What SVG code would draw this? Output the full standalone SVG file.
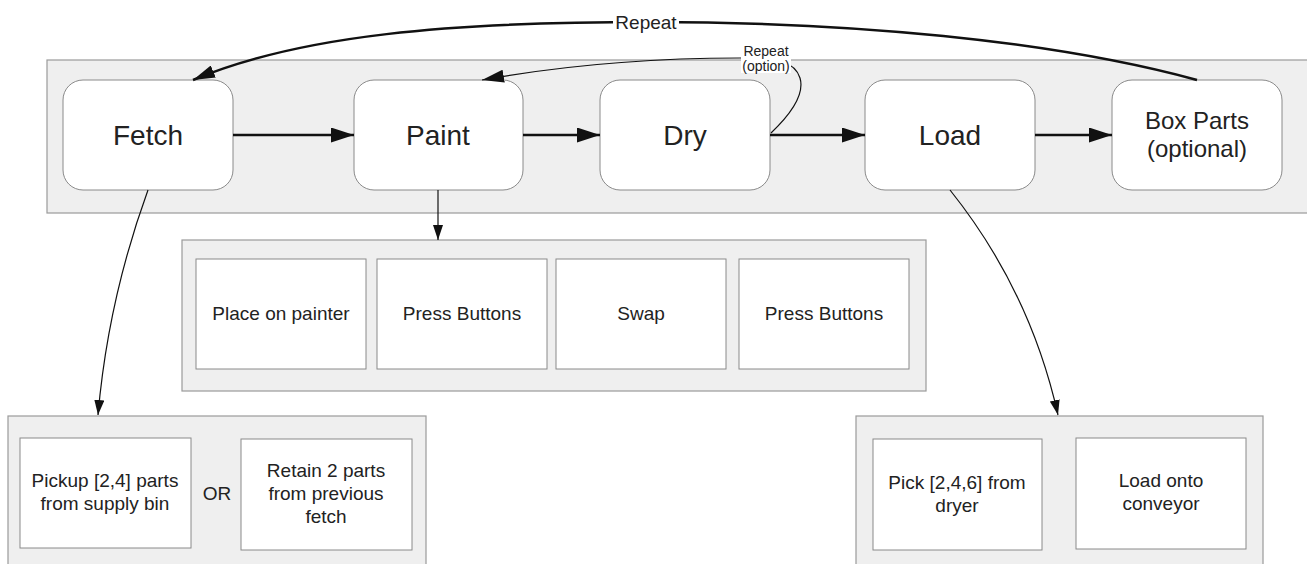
<svg xmlns="http://www.w3.org/2000/svg" width="1307" height="564" viewBox="0 0 1307 564">
<style>
.cont{fill:#efefef;stroke:#9a9a9a;stroke-width:1.2}
.node{fill:#fff;stroke:#8a8a8a;stroke-width:1}
.box{fill:#fff;stroke:#8a8a8a;stroke-width:1}
text{font-family:"Liberation Sans",Arial,sans-serif;fill:#222;text-anchor:middle}
.big{font-size:28px}
.mid{font-size:24px}
.sm{font-size:19px}
.lbl{font-size:14px}
.thick{fill:none;stroke:#111;stroke-width:2.5}
.thin{fill:none;stroke:#111;stroke-width:1.2}
</style>
<defs>
<marker id="ah" viewBox="0 0 10 10" refX="10" refY="5" markerWidth="15" markerHeight="10" markerUnits="userSpaceOnUse" orient="auto" preserveAspectRatio="none"><path d="M0 0L10 5L0 10z" fill="#111"/></marker>
<marker id="ahb" viewBox="0 0 10 10" refX="10" refY="5" markerWidth="23" markerHeight="15" markerUnits="userSpaceOnUse" orient="auto" preserveAspectRatio="none"><path d="M0 0L10 5L0 10z" fill="#111"/></marker>
<marker id="aht" viewBox="0 0 10 10" refX="10" refY="5" markerWidth="22" markerHeight="13" markerUnits="userSpaceOnUse" orient="auto" preserveAspectRatio="none"><path d="M0 0L10 5L0 10z" fill="#111"/></marker>
</defs>
<rect width="1307" height="564" fill="#fff"/>

<g id="main-stage">
<rect class="cont" x="47" y="60" width="1265" height="153"/>
</g>
<g id="fetch"><rect class="node" x="63" y="80" width="170" height="110" rx="20"/><text class="big" x="148" y="145">Fetch</text></g>
<g id="paint"><rect class="node" x="354" y="80" width="169" height="110" rx="20"/><text class="big" x="438" y="145">Paint</text></g>
<g id="dry"><rect class="node" x="600" y="80" width="170" height="110" rx="20"/><text class="big" x="685" y="145">Dry</text></g>
<g id="load"><rect class="node" x="865" y="80" width="170" height="110" rx="20"/><text class="big" x="950" y="145">Load</text></g>
<g id="box-parts"><rect class="node" x="1112" y="80" width="170" height="110" rx="20"/><text class="mid" x="1197" y="129">Box Parts</text><text class="mid" x="1197" y="157">(optional)</text></g>

<g id="paint-steps">
<rect class="cont" x="182" y="240" width="744" height="151"/>
<g id="place"><rect class="box" x="196" y="259" width="170" height="110"/><text class="sm" x="281" y="320">Place on painter</text></g>
<g id="press1"><rect class="box" x="377" y="259" width="170" height="110"/><text class="sm" x="462" y="320">Press Buttons</text></g>
<g id="swap"><rect class="box" x="556" y="259" width="170" height="110"/><text class="sm" x="641" y="320">Swap</text></g>
<g id="press2"><rect class="box" x="739" y="259" width="170" height="110"/><text class="sm" x="824" y="320">Press Buttons</text></g>
</g>

<g id="fetch-steps">
<rect class="cont" x="8" y="416" width="418" height="160"/>
<g id="pickup"><rect class="box" x="20" y="438" width="171" height="110"/><text class="sm" x="105" y="487">Pickup [2,4] parts</text><text class="sm" x="105" y="510">from supply bin</text></g>
<text class="sm" x="217" y="500">OR</text>
<g id="retain"><rect class="box" x="241" y="439" width="171" height="111"/><text class="sm" x="326" y="477">Retain 2 parts</text><text class="sm" x="326" y="500">from previous</text><text class="sm" x="326" y="523">fetch</text></g>
</g>

<g id="load-steps">
<rect class="cont" x="856" y="416" width="407" height="160"/>
<g id="pick"><rect class="box" x="873" y="439" width="169" height="111"/><text class="sm" x="957" y="489">Pick [2,4,6] from</text><text class="sm" x="957" y="512">dryer</text></g>
<g id="conveyor"><rect class="box" x="1076" y="438" width="170" height="111"/><text class="sm" x="1161" y="487">Load onto</text><text class="sm" x="1161" y="510">conveyor</text></g>
</g>

<g id="connectors">
<path class="thick" d="M233 135H354" marker-end="url(#ahb)"/>
<path class="thick" d="M523 135H600" marker-end="url(#ahb)"/>
<path class="thick" d="M770 135H865" marker-end="url(#ahb)"/>
<path class="thick" d="M1035 135H1112" marker-end="url(#ahb)"/>
<path class="thick" d="M1197 80C1050 40 850 22 650 22C450 22 300 35 193 80" marker-end="url(#aht)"/>
<rect x="613" y="12" width="66" height="20" fill="#fff"/>
<text class="sm" x="646" y="29">Repeat</text>
<path class="thin" d="M771 133C790 115 805 95 800 78C795 62 780 58 740 58C640 58 560 66 482 80" marker-end="url(#aht)"/>
<rect x="741" y="42" width="50" height="31" fill="#fff"/>
<text class="lbl" x="766" y="56">Repeat</text>
<text class="lbl" x="766" y="71">(option)</text>
<path class="thin" d="M438 190V240" marker-end="url(#ah)"/>
<path class="thin" d="M148 190Q108 300 98 415" marker-end="url(#ah)"/>
<path class="thin" d="M950 190Q1030 290 1058 415" marker-end="url(#ah)"/>
</g>
</svg>
